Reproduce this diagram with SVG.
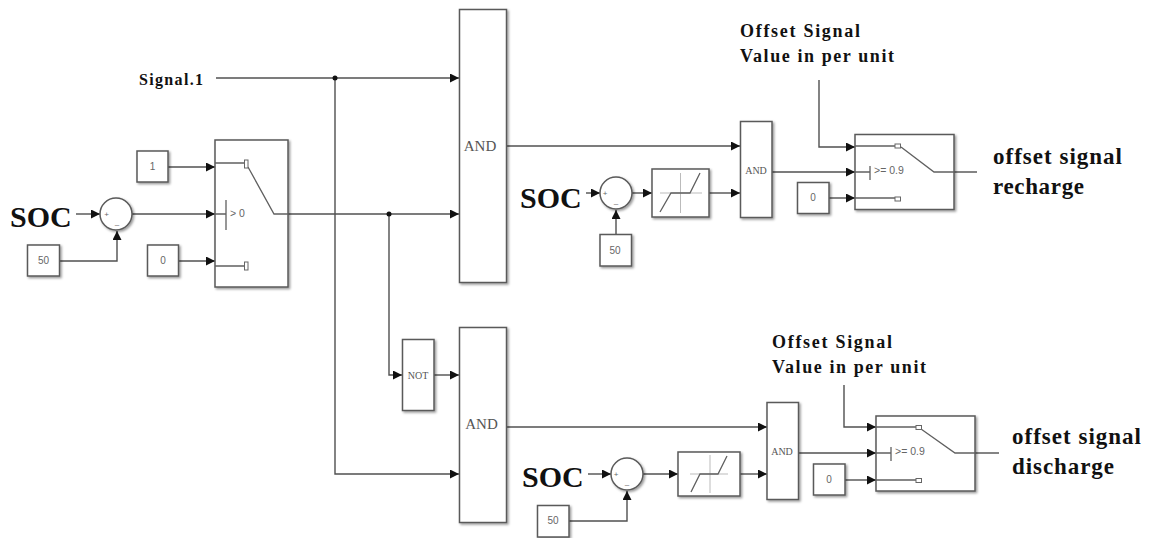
<svg xmlns="http://www.w3.org/2000/svg" width="1149" height="538" viewBox="0 0 1149 538">
<style>
.b{fill:#fff;stroke:#5a5a5a;stroke-width:1.5;filter:url(#sh)}
.w{fill:none;stroke:#505050;stroke-width:1.4}
.in{fill:none;stroke:#606060;stroke-width:1.3}
.j{fill:#111}
.g{font-family:"Liberation Sans",Arial,sans-serif;fill:#666;text-anchor:middle}
.a{font-family:"Liberation Serif","Times New Roman",serif;fill:#555;text-anchor:middle}
.s{font-family:"Liberation Serif","Times New Roman",serif;font-weight:bold;fill:#111}
.c{fill:#fff;stroke:#666;stroke-width:1}
</style>
<defs>
<filter id="sh" x="-20%" y="-20%" width="140%" height="140%"><feDropShadow dx="1.5" dy="1.5" stdDeviation="1" flood-color="#000" flood-opacity=".4"/></filter>
<marker id="ah" markerUnits="userSpaceOnUse" markerWidth="10" markerHeight="10" refX="9" refY="4.500" orient="auto"><path d="M0 0L9 4.500L0 9Z" fill="#111"/></marker>
</defs>
<rect width="1149" height="538" fill="#fff"/>
<g id="connectors">
<path class="w" d="M216 78H459" marker-end="url(#ah)"/>
<path class="w" d="M335 78V474H459" marker-end="url(#ah)"/>
<path class="w" d="M288 214H459" marker-end="url(#ah)"/>
<path class="w" d="M389 214V375H402" marker-end="url(#ah)"/>
<path class="w" d="M434 375H459" marker-end="url(#ah)"/>
<path class="w" d="M168 167H215" marker-end="url(#ah)"/>
<path class="w" d="M76 214H100" marker-end="url(#ah)"/>
<path class="w" d="M132 214H215" marker-end="url(#ah)"/>
<path class="w" d="M59 261H117V231" marker-end="url(#ah)"/>
<path class="w" d="M178 261H215" marker-end="url(#ah)"/>
<path class="w" d="M506 146H740" marker-end="url(#ah)"/>
<path class="w" d="M586 193H600" marker-end="url(#ah)"/>
<path class="w" d="M632 193H652" marker-end="url(#ah)"/>
<path class="w" d="M709 193H740" marker-end="url(#ah)"/>
<path class="w" d="M616 234V210" marker-end="url(#ah)"/>
<path class="w" d="M772 172H855" marker-end="url(#ah)"/>
<path class="w" d="M829 198H855" marker-end="url(#ah)"/>
<path class="w" d="M819 80V147H855" marker-end="url(#ah)"/>
<path class="w" d="M954 172H977"/>
<path class="w" d="M506 427H767" marker-end="url(#ah)"/>
<path class="w" d="M588 474H611" marker-end="url(#ah)"/>
<path class="w" d="M643 474H678" marker-end="url(#ah)"/>
<path class="w" d="M740 474H767" marker-end="url(#ah)"/>
<path class="w" d="M569 521H627V491" marker-end="url(#ah)"/>
<path class="w" d="M798 453H876" marker-end="url(#ah)"/>
<path class="w" d="M845 480H876" marker-end="url(#ah)"/>
<path class="w" d="M844 385V427H876" marker-end="url(#ah)"/>
<path class="w" d="M975 453H999"/>
<circle class="j" cx="335" cy="78" r="2.500"/>
<circle class="j" cx="389" cy="214" r="2.500"/>
</g>
<g id="label-signal1"><text class="s" x="139" y="85" font-size="16" textLength="64" lengthAdjust="spacing">Signal.1</text></g>
<g id="soc1"><text class="s" x="10" y="227" font-size="30">SOC</text></g>
<g id="const-1"><rect class="b" x="137" y="151" width="31" height="31"/><text class="g" x="152.500" y="170" font-size="10">1</text></g>
<g id="const-50a"><rect class="b" x="27.500" y="245" width="32" height="31"/><text class="g" x="43.500" y="264" font-size="10">50</text></g>
<g id="const-0a"><rect class="b" x="147.500" y="245" width="31" height="31"/><text class="g" x="163" y="264" font-size="10">0</text></g>
<g id="sum1"><circle class="b" cx="116" cy="214" r="16"/><text class="g" x="106.500" y="217" font-size="8">+</text><text class="g" x="117" y="227" font-size="8">–</text></g>
<g id="switch1">
<rect class="b" x="215" y="140" width="73" height="147"/>
<path class="in" d="M215 163H244M215 266H244M226 200V230M248 167L274 214H288M215 214H226"/>
<rect class="c" x="244.500" y="160" width="3.500" height="8"/><rect class="c" x="244.500" y="262" width="3.500" height="8"/>
<text class="g" x="230" y="217" font-size="10.500" style="text-anchor:start">&gt; 0</text>
</g>
<g id="and-top"><rect class="b" x="459.500" y="9.500" width="47" height="273"/><text class="a" x="480" y="151" font-size="15">AND</text></g>
<g id="not"><rect class="b" x="402.500" y="339.500" width="31.500" height="71"/><text class="a" x="418" y="379" font-size="10">NOT</text></g>
<g id="and-bottom"><rect class="b" x="459.500" y="327.500" width="47" height="195"/><text class="a" x="481.500" y="429" font-size="15">AND</text></g>
<g id="soc2"><text class="s" x="520" y="208" font-size="30">SOC</text></g>
<g id="sum2"><circle class="b" cx="616" cy="193" r="16"/><text class="g" x="605" y="196" font-size="8">+</text><text class="g" x="616" y="206" font-size="8">–</text></g>
<g id="const-50b"><rect class="b" x="600" y="234.500" width="31.500" height="31.500"/><text class="g" x="615" y="254" font-size="10">50</text></g>
<g id="sat1"><rect class="b" x="652" y="169" width="57" height="48"/><path d="M660 193H702M680.500 173V213" stroke="#bbb" fill="none"/><path class="in" d="M660 212L671 193H690L700 173" stroke-width="1.500"/></g>
<g id="and-small1"><rect class="b" x="740.500" y="121.500" width="31.500" height="96"/><text class="a" x="756" y="174" font-size="10">AND</text></g>
<g id="const-0b"><rect class="b" x="797.500" y="182.500" width="31.500" height="31"/><text class="g" x="813" y="201" font-size="10">0</text></g>
<g id="switch2">
<rect class="b" x="855" y="134.500" width="99" height="75"/>
<path class="in" d="M855 146H895M855 198H895M855 172H870M870 166V180M901 147L934 172H954"/>
<rect class="c" x="895" y="144" width="5.500" height="4"/><rect class="c" x="895" y="197" width="5.500" height="4"/>
<text class="g" x="874" y="174" font-size="10.500" style="text-anchor:start">&gt;= 0.9</text>
</g>
<g id="label-offset1"><text class="s" x="740" y="37" font-size="18" textLength="120" lengthAdjust="spacing">Offset Signal</text><text class="s" x="740" y="62" font-size="18" textLength="154" lengthAdjust="spacing">Value in per unit</text></g>
<g id="out1"><text class="s" x="993" y="164" font-size="23" textLength="129" lengthAdjust="spacing">offset signal</text><text class="s" x="993" y="194" font-size="23" textLength="91" lengthAdjust="spacing">recharge</text></g>
<g id="soc3"><text class="s" x="522" y="487" font-size="30">SOC</text></g>
<g id="sum3"><circle class="b" cx="627" cy="474" r="16"/><text class="g" x="616" y="477" font-size="8">+</text><text class="g" x="627" y="487" font-size="8">–</text></g>
<g id="const-50c"><rect class="b" x="537.500" y="505.500" width="31.500" height="31.500"/><text class="g" x="553" y="524" font-size="10">50</text></g>
<g id="sat2"><rect class="b" x="678" y="452" width="62" height="44"/><path d="M690 474H728M710 455V493" stroke="#bbb" fill="none"/><path class="in" d="M691 492L700 474H718L727 456" stroke-width="1.500"/></g>
<g id="and-small2"><rect class="b" x="767" y="402.500" width="31.500" height="97"/><text class="a" x="782" y="455" font-size="10">AND</text></g>
<g id="const-0c"><rect class="b" x="813.500" y="464" width="31.500" height="31"/><text class="g" x="829" y="483" font-size="10">0</text></g>
<g id="switch3">
<rect class="b" x="876" y="416" width="99" height="75"/>
<path class="in" d="M876 427H916M876 480H916M876 453H891M891 447V461M921 429L955 453H975"/>
<rect class="c" x="916" y="425.500" width="5.500" height="4"/><rect class="c" x="916" y="478.500" width="5.500" height="4"/>
<text class="g" x="895" y="455" font-size="10.500" style="text-anchor:start">&gt;= 0.9</text>
</g>
<g id="label-offset2"><text class="s" x="772" y="348" font-size="18" textLength="120" lengthAdjust="spacing">Offset Signal</text><text class="s" x="772" y="373" font-size="18" textLength="154" lengthAdjust="spacing">Value in per unit</text></g>
<g id="out2"><text class="s" x="1012" y="444" font-size="23" textLength="129" lengthAdjust="spacing">offset signal</text><text class="s" x="1012" y="474" font-size="23" textLength="102" lengthAdjust="spacing">discharge</text></g>
</svg>
